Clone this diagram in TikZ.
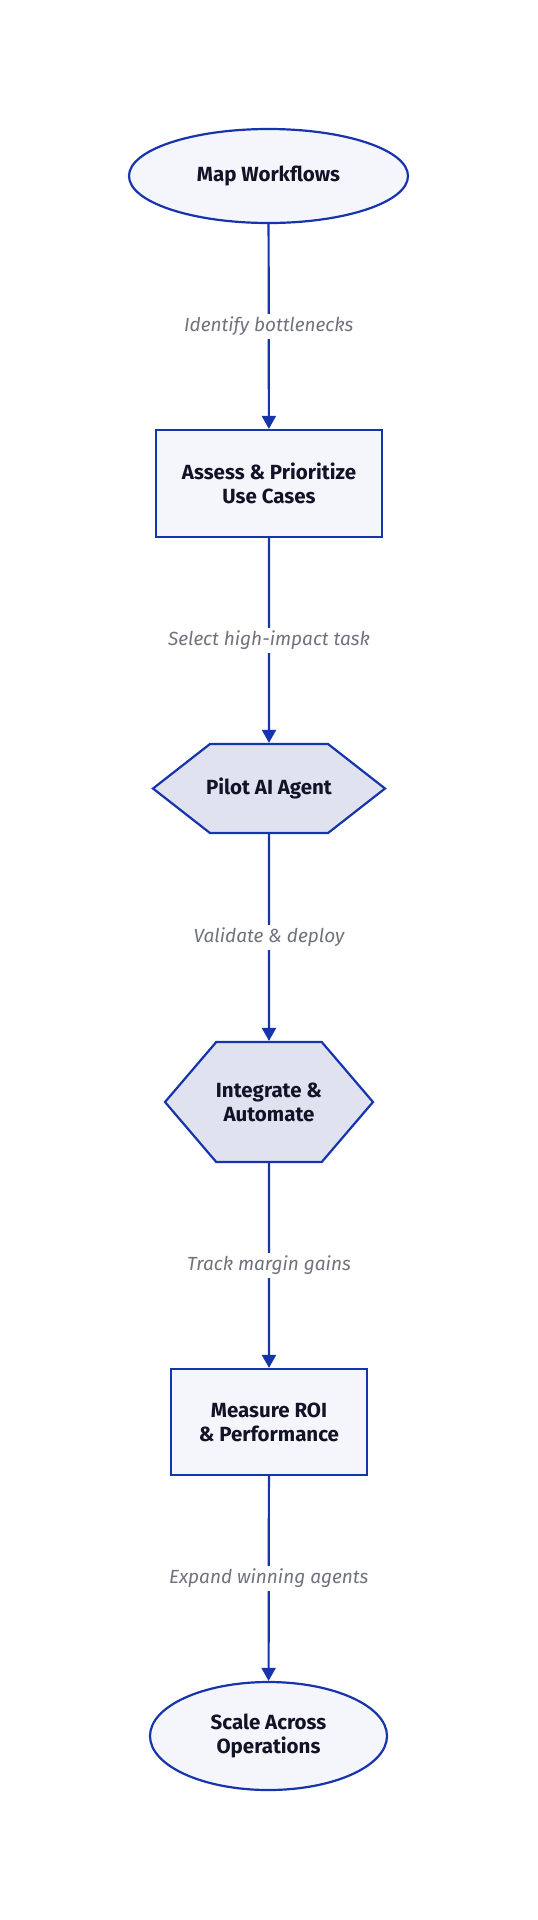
\documentclass[tikz,border=0pt]{standalone}
\usepackage{fontspec}
\setmainfont{Fira Sans}
\usepackage{tikz}
\usetikzlibrary{shapes, shapes.geometric, shapes.symbols, arrows.meta, positioning, calc}
\definecolor{flowblue}{RGB}{22, 52, 171}
\definecolor{softfill}{RGB}{245, 246, 252}
\definecolor{hexfill}{RGB}{224, 227, 239}
\definecolor{inkdark}{RGB}{17, 20, 39}
\definecolor{notegrey}{RGB}{112, 114, 124}

\begin{document}
\begin{tikzpicture}[
  x=1pt, y=-1pt,
  base/.style={draw=flowblue, line width=2.2pt, text=inkdark, align=center, inner sep=2pt,
    font=\fontsize{20.5}{24}\selectfont\bfseries},
  oval/.style={base, ellipse, fill=softfill},
  card/.style={base, rectangle, fill=softfill},
  hexa/.style={base, signal, signal to=west and east, signal pointer angle=#1, fill=hexfill, inner xsep=-5pt},
  flow/.style={draw=flowblue, line width=2.2pt, -{Triangle[width=14pt, length=13pt]}},
  note/.style={fill=white, text=notegrey, inner sep=3pt, font=\fontsize{19}{22}\selectfont\itshape},
]
  \useasboundingbox (0, 0) rectangle (538, 1920);

  \node[oval, minimum width=279pt, minimum height=94pt] (map) at (268.5, 176) {Map Workflows};
  \node[card, minimum width=226pt, minimum height=107pt] (assess) at (269, 483.5) {Assess \& Prioritize\\Use Cases};
  \node[hexa=76, minimum width=232pt, minimum height=89pt] (pilot) at (269, 788.5) {Pilot AI Agent};
  \node[hexa=99, minimum width=208pt, minimum height=120pt] (integrate) at (269, 1102) {Integrate \&\\Automate};
  \node[card, minimum width=196pt, minimum height=106pt] (measure) at (269, 1422) {Measure ROI\\\& Performance};
  \node[oval, minimum width=237pt, minimum height=108pt] (scale) at (268.5, 1736) {Scale Across\\Operations};

  \draw[flow] (map) -- node[note] {Identify bottlenecks} (assess);
  \draw[flow] (assess) -- node[note] {Select high-impact task} (pilot);
  \draw[flow] (pilot) -- node[note] {Validate \& deploy} (integrate);
  \draw[flow] (integrate) -- node[note] {Track margin gains} (measure);
  \draw[flow] (measure) -- node[note] {Expand winning agents} (scale);
\end{tikzpicture}
\end{document}
